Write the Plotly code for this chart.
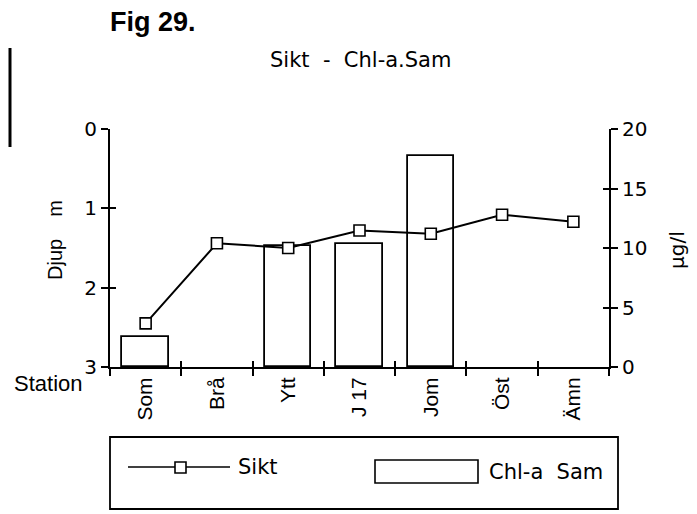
import plotly.graph_objects as go

# -----------------------------
# Data
# -----------------------------
stations = ["Som", "Brå", "Ytt", "J 17", "Jom", "Öst", "Ämn"]
sikt_m = [2.45, 1.44, 1.50, 1.28, 1.32, 1.08, 1.17]        # Sikt, depth (m)
chl_a_sam = [2.5, None, 10.2, 10.3, 17.7, None, None]      # Chl-a Sam, µg/l

depth_ticks = [0, 1, 2, 3]
chl_ticks = [0, 5, 10, 15, 20]

# the page body has an 8px margin, so the figure is a bit smaller
OFF = 8
W, H = 697 - OFF, 514 - OFF
L, T = 110 - OFF, 129 - OFF
R, B = W - (609 - OFF), H - (367 - OFF)
PW, PH = W - L - R, H - T - B


# positions below are given in pixels of the reference picture
def px(x):
    return (x - OFF - L) / PW


def py(y):
    return (H - B - (y - OFF)) / PH


num_font = dict(family="DejaVu Sans", size=20, color="black")
lab_font = dict(family="Liberation Sans", size=21, color="black")

fig = go.Figure()

# bars first, on the base axis, so the line lies on top
fig.add_trace(go.Bar(
    x=stations, y=chl_a_sam, name="Chl-a Sam",
    xaxis="x", yaxis="y", width=0.65,
    marker=dict(color="white", line=dict(color="black", width=1.8)),
))
fig.add_trace(go.Scatter(
    x=stations, y=sikt_m, name="Sikt",
    xaxis="x", yaxis="y2", mode="lines+markers",
    line=dict(color="black", width=2),
    marker=dict(symbol="square", size=11, color="white",
                line=dict(color="black", width=1.6)),
))
# invisible copies so the overlay axes (inner half of the ticks) get drawn
idx = list(range(len(stations)))
for xs, ys, xa, ya in [(idx, sikt_m, "x2", "y2"),
                       (stations, sikt_m, "x", "y3"),
                       (stations, chl_a_sam, "x", "y4")]:
    fig.add_trace(go.Scatter(x=xs, y=ys, xaxis=xa, yaxis=ya,
                             mode="markers", marker=dict(opacity=0),
                             hoverinfo="skip"))

axis_common = dict(showgrid=False, zeroline=False, linecolor="black",
                   tickcolor="black", tickwidth=1.6)

fig.update_layout(
    width=W, height=H,
    margin=dict(l=L, r=R, t=T, b=B),
    paper_bgcolor="white", plot_bgcolor="white",
    showlegend=False,
    bargap=0,
    xaxis=dict(type="category", categoryarray=stations, range=[-0.5, 6.5],
               tickson="boundaries", ticks="outside", ticklen=7,
               showline=True, linewidth=2, tickangle=-90,
               tickfont=lab_font, **axis_common),
    xaxis2=dict(overlaying="x", anchor="y", range=[-0.5, 6.5],
                tick0=-0.5, dtick=1, ticks="inside", ticklen=6,
                showticklabels=False, showline=False, **axis_common),
    yaxis=dict(side="right", range=[0, 20], tickvals=chl_ticks,
               ticks="outside", ticklen=7, showline=True, linewidth=2,
               tickfont=num_font, anchor="x", **axis_common),
    yaxis2=dict(overlaying="y", side="left", range=[3, 0],
                tickvals=depth_ticks, ticks="outside", ticklen=7,
                showline=True, linewidth=2, tickfont=num_font,
                anchor="x", **axis_common),
    yaxis3=dict(overlaying="y", side="left", range=[3, 0],
                tickvals=depth_ticks, ticks="inside", ticklen=6,
                showticklabels=False, showline=False, anchor="x",
                **axis_common),
    yaxis4=dict(overlaying="y", side="right", range=[0, 20],
                tickvals=chl_ticks, ticks="inside", ticklen=6,
                showticklabels=False, showline=False, anchor="x",
                **axis_common),
)

# texts around the plot
texts = [
    dict(text="<b>Fig 29.</b>", x=px(108), y=py(22), xanchor="left",
         font=dict(family="Liberation Sans", size=27, color="black")),
    dict(text="Sikt  -  Chl-a.Sam", x=px(360), y=py(60), xanchor="center",
         font=dict(family="DejaVu Sans", size=21, color="black")),
    dict(text="Djup    m", x=px(55), y=py(240), textangle=-90,
         xanchor="center",
         font=dict(family="Liberation Sans", size=20, color="black")),
    dict(text="µg/l", x=px(677), y=py(250), textangle=-90,
         xanchor="center",
         font=dict(family="DejaVu Sans", size=20, color="black")),
    dict(text="Station", x=px(48), y=py(383), xanchor="center",
         font=dict(family="Liberation Sans", size=22, color="black")),
    dict(text="Sikt", x=px(236), y=py(467), xanchor="left",
         font=dict(family="DejaVu Sans", size=21, color="black")),
    dict(text="Chl-a  Sam", x=px(487), y=py(472), xanchor="left",
         font=dict(family="DejaVu Sans", size=21, color="black")),
]
for t in texts:
    fig.add_annotation(xref="paper", yref="paper", showarrow=False,
                       yanchor="middle", **t)

# hand-drawn legend box, as in the original
legend_shapes = [
    dict(type="rect", x0=px(110), x1=px(618), y0=py(509), y1=py(437),
         line=dict(color="black", width=1.8)),
    dict(type="line", x0=px(128), x1=px(230), y0=py(467), y1=py(467),
         line=dict(color="black", width=1.6)),
    dict(type="rect", x0=px(175), x1=px(186), y0=py(473), y1=py(462),
         fillcolor="white", line=dict(color="black", width=1.6)),
    dict(type="rect", x0=px(375), x1=px(478), y0=py(483), y1=py(460),
         fillcolor="white", line=dict(color="black", width=1.6)),
    # dark scan edge at far left
    dict(type="line", x0=px(10), x1=px(10), y0=py(147), y1=py(48),
         line=dict(color="black", width=3)),
]
for s in legend_shapes:
    fig.add_shape(xref="paper", yref="paper", **s)

fig.write_html("out.html")
